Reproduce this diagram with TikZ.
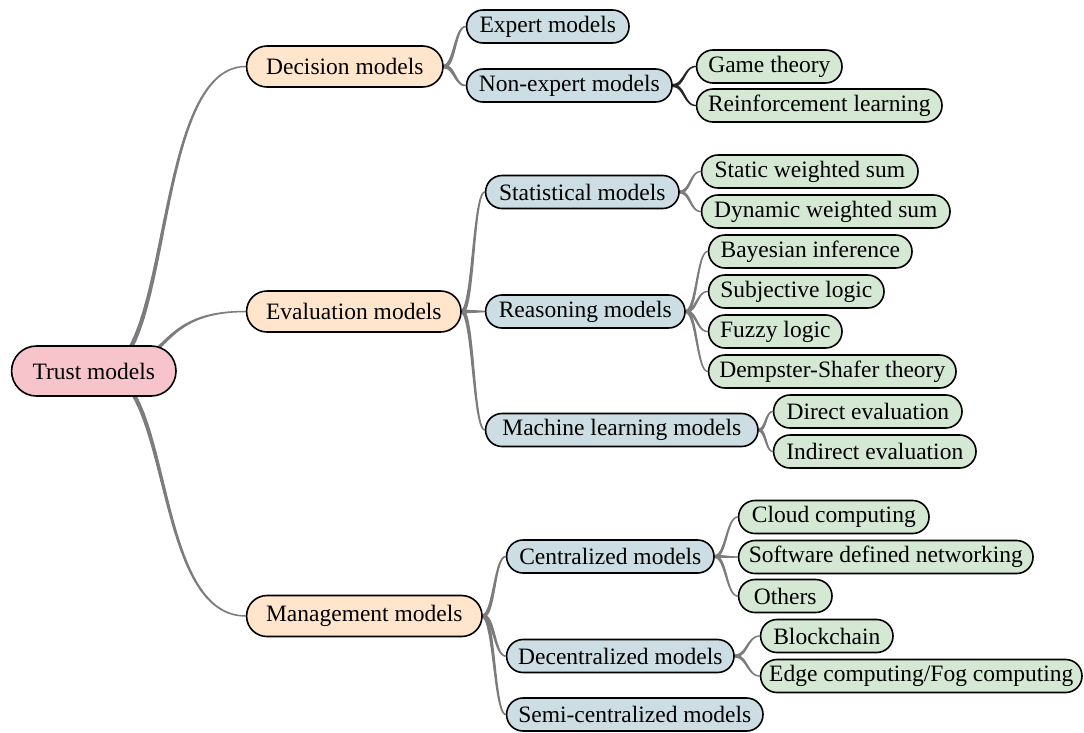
\documentclass[tikz,border=0pt]{standalone}
\usepackage{fontspec}
\setmainfont{Liberation Serif}
\pgfdeclarelayer{bg}
\pgfsetlayers{bg,main}
\definecolor{cRoot}{HTML}{F8C4CB}
\definecolor{cOne}{HTML}{FFE5CC}
\definecolor{cTwo}{HTML}{CCDDE3}
\definecolor{cThree}{HTML}{D4E8D4}
\definecolor{lkGray}{HTML}{7C7C7C}
\definecolor{lkDark}{HTML}{262626}
\newdimen\lkxa \newdimen\lkya \newdimen\lkxb \newdimen\lkyb
\newdimen\lkxc \newdimen\lkxd
% #1 from, #2 to, #3 start width, #4 end width, #5 #6 control fractions, #7 colour
\newcommand\taperlink[7]{%
  \path (#1) coordinate (lkA) (#2) coordinate (lkB);%
  \pgfextractx{\lkxa}{\pgfpointanchor{lkA}{center}}%
  \pgfextracty{\lkya}{\pgfpointanchor{lkA}{center}}%
  \pgfextractx{\lkxb}{\pgfpointanchor{lkB}{center}}%
  \pgfextracty{\lkyb}{\pgfpointanchor{lkB}{center}}%
  \pgfmathsetlength{\lkxc}{\lkxa+#5*(\lkxb-\lkxa)}%
  \pgfmathsetlength{\lkxd}{\lkxa+#6*(\lkxb-\lkxa)}%
  \foreach \lki in {0,...,29}{%
    \pgfmathsetmacro\lkta{\lki/30}%
    \pgfmathsetmacro\lktb{(\lki+1)/30}%
    \pgfmathsetmacro\lkww{#3+(#4-#3)*(\lki+0.5)/30}%
    \begin{pgfscope}%
      \pgfsetlinewidth{\lkww pt}%
      \pgfsetroundcap
      \pgfsetstrokecolor{#7}%
      \pgfpathcurvebetweentime{\lkta}{\lktb}{\pgfqpoint{\lkxa}{\lkya}}{\pgfqpoint{\lkxc}{\lkya}}{\pgfqpoint{\lkxd}{\lkyb}}{\pgfqpoint{\lkxb}{\lkyb}}%
      \pgfusepath{stroke}%
    \end{pgfscope}%
  }%
}
\tikzset{
  pill/.style={draw=black, line width=1.6pt, anchor=west, inner xsep=0pt, inner ysep=0pt,
    font=\fontsize{23.5}{27}\selectfont, text=black},
  rootbox/.style={pill, fill=cRoot, minimum height=50, rounded corners=24.9},
  onebox/.style={pill, fill=cOne, minimum height=41, rounded corners=20.4},
  twobox/.style={pill, fill=cTwo, minimum height=33, rounded corners=16.4},
  threebox/.style={pill, fill=cThree, minimum height=33, rounded corners=16.4},
}
\begin{document}
\begin{tikzpicture}[x=1pt,y=-1pt]
\useasboundingbox (0,0) rectangle (1084,732);
% root
\node[rootbox, minimum width=164.4] (root) at (10.8,371) {Trust models};
\coordinate (rootc) at ([xshift=7pt]root.center);
% level 1
\node[onebox, minimum width=196.4] (dec) at (245.8,66.5) {Decision models};
\node[onebox, minimum width=214.4] (eva) at (245.8,311.5) {Evaluation models};
\node[onebox, minimum width=235.4] (man) at (245.8,616) {Management models};
% level 2
\node[twobox, minimum width=162.4] (exp) at (465.8,26.5) {Expert models};
\node[twobox, minimum width=205.4] (nonexp) at (465.8,85.5) {Non-expert models};
\node[twobox, minimum width=193.4] (sta) at (484.8,192) {Statistical models};
\node[twobox, minimum width=199.4] (rea) at (484.8,311.5) {Reasoning models};
\node[twobox, minimum width=272.4] (ml) at (484.8,430) {Machine learning models};
\node[twobox, minimum width=207.4] (cen) at (505.8,556.5) {Centralized models};
\node[twobox, minimum width=227.4] (decen) at (505.8,656) {Decentralized models};
\node[twobox, minimum width=256.4] (semi) at (505.8,714.5) {Semi-centralized models};
% level 3
\node[threebox, minimum width=145.4] (game) at (695.8,66.5) {Game theory};
\node[threebox, minimum width=245.4] (rl) at (695.8,105.5) {Reinforcement learning};
\node[threebox, minimum width=216.4] (stat) at (700.8,171.5) {Static weighted sum};
\node[threebox, minimum width=248.4] (dyn) at (700.8,211.5) {Dynamic weighted sum};
\node[threebox, minimum width=203.4] (bay) at (707.8,251.5) {Bayesian inference};
\node[threebox, minimum width=175.4] (subj) at (707.8,291.5) {Subjective logic};
\node[threebox, minimum width=133.4] (fuz) at (707.8,331.5) {Fuzzy logic};
\node[threebox, minimum width=247.4] (demp) at (707.8,371.5) {Dempster-Shafer theory};
\node[threebox, minimum width=188.4] (dir) at (772.8,411.5) {Direct evaluation};
\node[threebox, minimum width=202.4] (ind) at (772.8,451.5) {Indirect evaluation};
\node[threebox, minimum width=190.4] (cloud) at (737.8,517) {Cloud computing};
\node[threebox, minimum width=294.4] (sdn) at (737.8,557) {Software defined networking};
\node[threebox, minimum width=93.4] (oth) at (737.8,596) {Others};
\node[threebox, minimum width=132.4] (block) at (759.8,636) {Blockchain};
\node[threebox, minimum width=321.4] (edge) at (759.8,676) {Edge computing/Fog computing};
% links
\begin{pgfonlayer}{bg}
\fill[white] (0,0) rectangle (1084,732);
\taperlink{rootc}{dec.west}{5}{1.4}{0.5}{0.35}{lkGray}
\taperlink{rootc}{eva.west}{5}{1.4}{0.5}{0.35}{lkGray}
\taperlink{rootc}{man.west}{5}{1.4}{0.5}{0.35}{lkGray}
\taperlink{dec.east}{exp.west}{4}{1.4}{0.5}{0.5}{lkGray}
\taperlink{dec.east}{nonexp.west}{4}{1.4}{0.5}{0.5}{lkGray}
\taperlink{eva.east}{sta.west}{4}{1.4}{0.5}{0.5}{lkGray}
\taperlink{eva.east}{rea.west}{4}{1.4}{0.5}{0.5}{lkGray}
\taperlink{eva.east}{ml.west}{4}{1.4}{0.5}{0.5}{lkGray}
\taperlink{man.east}{cen.west}{4}{1.4}{0.5}{0.5}{lkGray}
\taperlink{man.east}{decen.west}{4}{1.4}{0.5}{0.5}{lkGray}
\taperlink{man.east}{semi.west}{4}{1.4}{0.5}{0.5}{lkGray}
\taperlink{nonexp.east}{game.west}{3.2}{1.2}{0.5}{0.5}{lkDark}
\taperlink{nonexp.east}{rl.west}{3.2}{1.2}{0.5}{0.5}{lkDark}
\taperlink{sta.east}{stat.west}{3.2}{1.2}{0.5}{0.5}{lkGray}
\taperlink{sta.east}{dyn.west}{3.2}{1.2}{0.5}{0.5}{lkGray}
\taperlink{rea.east}{bay.west}{3.2}{1.2}{0.5}{0.5}{lkGray}
\taperlink{rea.east}{subj.west}{3.2}{1.2}{0.5}{0.5}{lkGray}
\taperlink{rea.east}{fuz.west}{3.2}{1.2}{0.5}{0.5}{lkGray}
\taperlink{rea.east}{demp.west}{3.2}{1.2}{0.5}{0.5}{lkGray}
\taperlink{ml.east}{dir.west}{3.2}{1.2}{0.5}{0.5}{lkGray}
\taperlink{ml.east}{ind.west}{3.2}{1.2}{0.5}{0.5}{lkGray}
\taperlink{cen.east}{cloud.west}{3.2}{1.2}{0.5}{0.5}{lkGray}
\taperlink{cen.east}{sdn.west}{3.2}{1.2}{0.5}{0.5}{lkGray}
\taperlink{cen.east}{oth.west}{3.2}{1.2}{0.5}{0.5}{lkGray}
\taperlink{decen.east}{block.west}{3.2}{1.2}{0.5}{0.5}{lkGray}
\taperlink{decen.east}{edge.west}{3.2}{1.2}{0.5}{0.5}{lkGray}
\end{pgfonlayer}
\end{tikzpicture}
\end{document}
